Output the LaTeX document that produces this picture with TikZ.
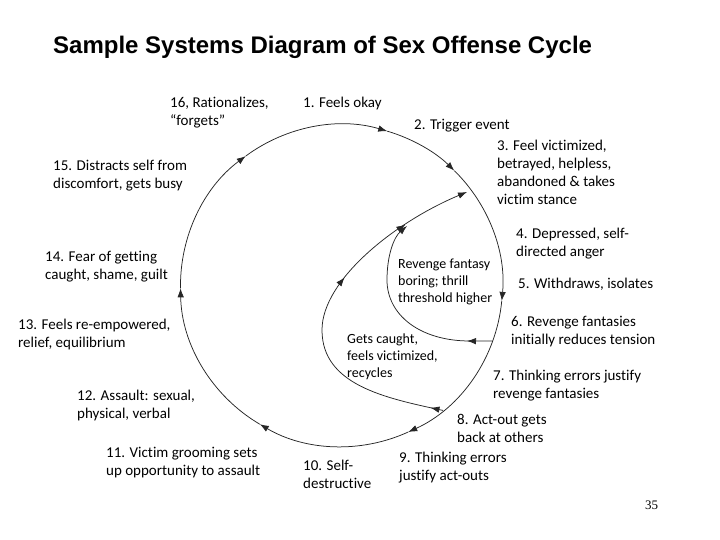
\documentclass[tikz,border=0pt]{standalone}
\usepackage{fontspec}
\setmainfont{Carlito}[Ligatures=NoCommon]
\newfontfamily\titlefam{Liberation Sans}
\newfontfamily\numfam{Liberation Serif}
\usetikzlibrary{arrows.meta,decorations.markings,calc}
\begin{document}
\begin{tikzpicture}[x=1pt,y=1pt,
  >={Latex[length=9pt,width=6.5pt]},
  lbl/.style={anchor=north west,align=left,inner sep=0pt,font=\fontsize{15}{18}\selectfont},
  inlbl/.style={anchor=north west,align=left,inner sep=0pt,font=\fontsize{14}{17}\selectfont},
  cyc/.style={line width=0.75pt,draw=black!85},
]
\useasboundingbox (0,0) rectangle (720,-540);

% title and page number
\node[anchor=base west,inner sep=0pt,font=\titlefam\bfseries\fontsize{24}{28}\selectfont] (title) at (53,-54) {Sample Systems Diagram of Sex Offense Cycle};
\node[anchor=base west,inner sep=0pt,font=\numfam\fontsize{13}{15}\selectfont] (pg) at (645,-509) {35};

% labels
\node[lbl] (t16) at (170,-95) {\strut 16, Rationalizes,\\“forgets”};
\node[lbl] (t1) at (303,-95) {\strut 1. Feels okay};
\node[lbl] (t2) at (414,-117) {\strut 2. Trigger event};
\node[lbl] (t3) at (497,-138) {\strut 3. Feel victimized,\\betrayed, helpless,\\abandoned \& takes\\victim stance};
\node[lbl] (t4) at (516,-226) {\strut 4. Depressed, self-\\directed anger};
\node[lbl] (t5) at (518,-276) {\strut 5. Withdraws, isolates};
\node[lbl] (t6) at (511,-314) {\strut 6. Revenge fantasies\\initially reduces tension};
\node[lbl] (t7) at (493,-368) {\strut 7. Thinking errors justify\\revenge fantasies};
\node[lbl] (t8) at (457,-412) {\strut 8. Act-out gets\\back at others};
\node[lbl] (t9) at (399,-450) {\strut 9. Thinking errors\\justify act-outs};
\node[lbl] (t10) at (303,-458) {\strut 10. Self-\\destructive};
\node[lbl] (t11) at (106,-445) {\strut 11. Victim grooming sets\\up opportunity to assault};
\node[lbl] (t12) at (77,-388) {\strut 12. Assault: sexual,\\physical, verbal};
\node[lbl] (t13) at (18,-317) {\strut 13. Feels re-empowered,\\relief, equilibrium};
\node[lbl] (t14) at (45,-249) {\strut 14. Fear of getting\\caught, shame, guilt};
\node[lbl] (t15) at (53,-158) {\strut 15. Distracts self from\\discomfort, gets busy};

\node[inlbl] (rv) at (398,-256) {\strut Revenge fantasy\\boring; thrill\\threshold higher};
\node[inlbl] (gc) at (347,-331) {\strut Gets caught,\\feels victimized,\\recycles};

% the cycle
\coordinate (C) at (341.5,-285.5);
\foreach \a/\b/\n in {181/126.5/a, 126.5/73.5/b, 73.5/45.5/c, 45.5/-5.5/d, -5.5/-65.5/e, -65.5/-120.5/f, -120.5/-179/g}{
  \coordinate (q\n) at ($(C)+(\a:161)$);
  \draw[cyc,->] (q\n) arc[start angle=\a, end angle=\b, radius=161];
}

% inner loops
\coordinate (s8) at ($(C)+(-50.9:161)$);
\coordinate (lft) at (322,-330);
\coordinate (e3) at (467,-192);
\draw[cyc,->,postaction={decorate},decoration={markings,
   mark=at position 0.035 with {\arrow{>}},
   mark=at position 0.59 with {\arrow{>}},
   mark=at position 0.81 with {\arrow{>}}}]
  (s8) .. controls (385,-398) and (322,-385) .. (lft)
       .. controls (322,-280) and (395,-222) .. (e3);

\coordinate (s6) at ($(C)+(-20.2:161)$);
\coordinate (h6) at (470,-341);
\coordinate (jn) at (407,-226);
\draw[cyc,->,postaction={decorate},decoration={markings,
   mark=at position 0.13 with {\arrow{>}}}]
  (s6) -- (h6) .. controls (420,-341) and (387,-315) .. (387,-280)
       .. controls (387,-255) and (394,-237) .. (jn);
\end{tikzpicture}
\end{document}
